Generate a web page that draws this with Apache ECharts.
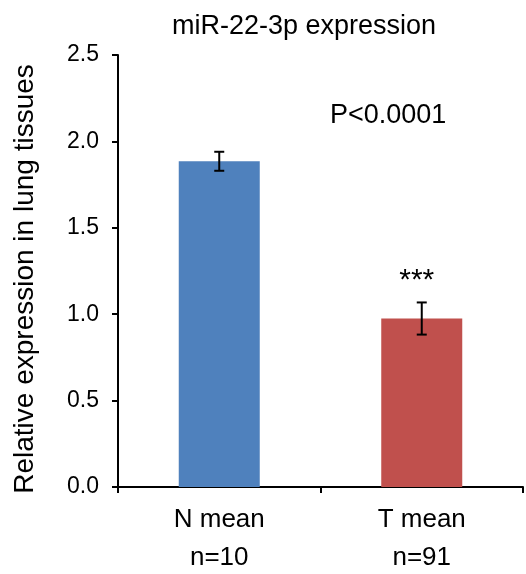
<!DOCTYPE html>
<html>
<head>
<meta charset="utf-8">
<script src="https://cdn.jsdelivr.net/npm/echarts@6/dist/echarts.min.js"></script>
<style>
  html, body { margin: 0; padding: 0; background: #fff; }
  #chart { width: 526px; height: 574px; }
</style>
</head>
<body>
<div id="chart"></div>
<script>
// data
var groups = ['N mean', 'T mean'];
var sampleSizes = ['n=10', 'n=91'];
var means = [1.885, 0.975];
var sem = [0.055, 0.093];
var stars = ['', '***'];
var barColors = ['#4F81BD', '#C0504D'];
var yTicks = [0, 0.5, 1.0, 1.5, 2.0, 2.5];

var font = 'Arial, "Liberation Sans", sans-serif';
var chart = echarts.init(document.getElementById('chart'));

var errData = means.map(function (m, i) {
  return [i, m - sem[i], m + sem[i], stars[i]];
});

var option = {
  animation: false,
  title: {
    text: 'miR-22-3p expression',
    left: 299,
    top: 8,
    textAlign: 'center',
    textStyle: { fontFamily: font, fontSize: 27, fontWeight: 'normal', color: '#000' }
  },
  grid: { left: 118, right: 3, top: 55, bottom: 87, outerBoundsMode: 'none', containLabel: false },
  xAxis: {
    type: 'category',
    data: groups,
    axisLine: { lineStyle: { color: '#000', width: 2 } },
    axisTick: { show: true, length: 6, lineStyle: { color: '#000', width: 2 } },
    axisLabel: {
      fontFamily: font, fontSize: 26, color: '#000', margin: 14, lineHeight: 38,
      formatter: function (v, i) { return v + '\n' + sampleSizes[i]; }
    }
  },
  yAxis: {
    type: 'value',
    min: yTicks[0],
    max: yTicks[yTicks.length - 1],
    interval: 0.5,
    splitLine: { show: false },
    axisLine: { show: true, lineStyle: { color: '#000', width: 2 } },
    axisTick: { show: true, length: 6, lineStyle: { color: '#000', width: 2 } },
    axisLabel: {
      fontFamily: font, fontSize: 23, color: '#000', margin: 19,
      formatter: function (v) { return v.toFixed(1); }
    }
  },
  series: [
    {
      type: 'bar',
      barWidth: '40%',
      data: means.map(function (m, i) {
        return { value: m, itemStyle: { color: barColors[i] } };
      })
    },
    {
      type: 'custom',
      z: 5,
      data: errData,
      renderItem: function (params, api) {
        var x = api.value(0);
        var lo = api.coord([x, api.value(1)]);
        var hi = api.coord([x, api.value(2)]);
        var cap = 5;
        var st = { stroke: '#000', lineWidth: 2 };
        var children = [
          { type: 'line', shape: { x1: lo[0], y1: lo[1], x2: hi[0], y2: hi[1] }, style: st },
          { type: 'line', shape: { x1: lo[0] - cap, y1: lo[1], x2: lo[0] + cap, y2: lo[1] }, style: st },
          { type: 'line', shape: { x1: hi[0] - cap, y1: hi[1], x2: hi[0] + cap, y2: hi[1] }, style: st }
        ];
        var s = api.value(3);
        if (s) {
          children.push({
            type: 'text',
            style: {
              text: s, x: hi[0] - 5, y: hi[1] - 22,
              align: 'center', verticalAlign: 'middle',
              font: '30px ' + font, fill: '#000'
            }
          });
        }
        return { type: 'group', children: children };
      }
    }
  ],
  graphic: [
    {
      type: 'text',
      left: 330,
      top: 102,
      style: { text: 'P<0.0001', font: '27px ' + font, fill: '#000' }
    },
    {
      type: 'text',
      x: 25,
      y: 279,
      rotation: Math.PI / 2,
      style: {
        text: 'Relative expression in lung tissues',
        font: '28px ' + font, fill: '#000',
        align: 'center', verticalAlign: 'middle'
      }
    }
  ]
};

chart.setOption(option);
</script>
</body>
</html>
